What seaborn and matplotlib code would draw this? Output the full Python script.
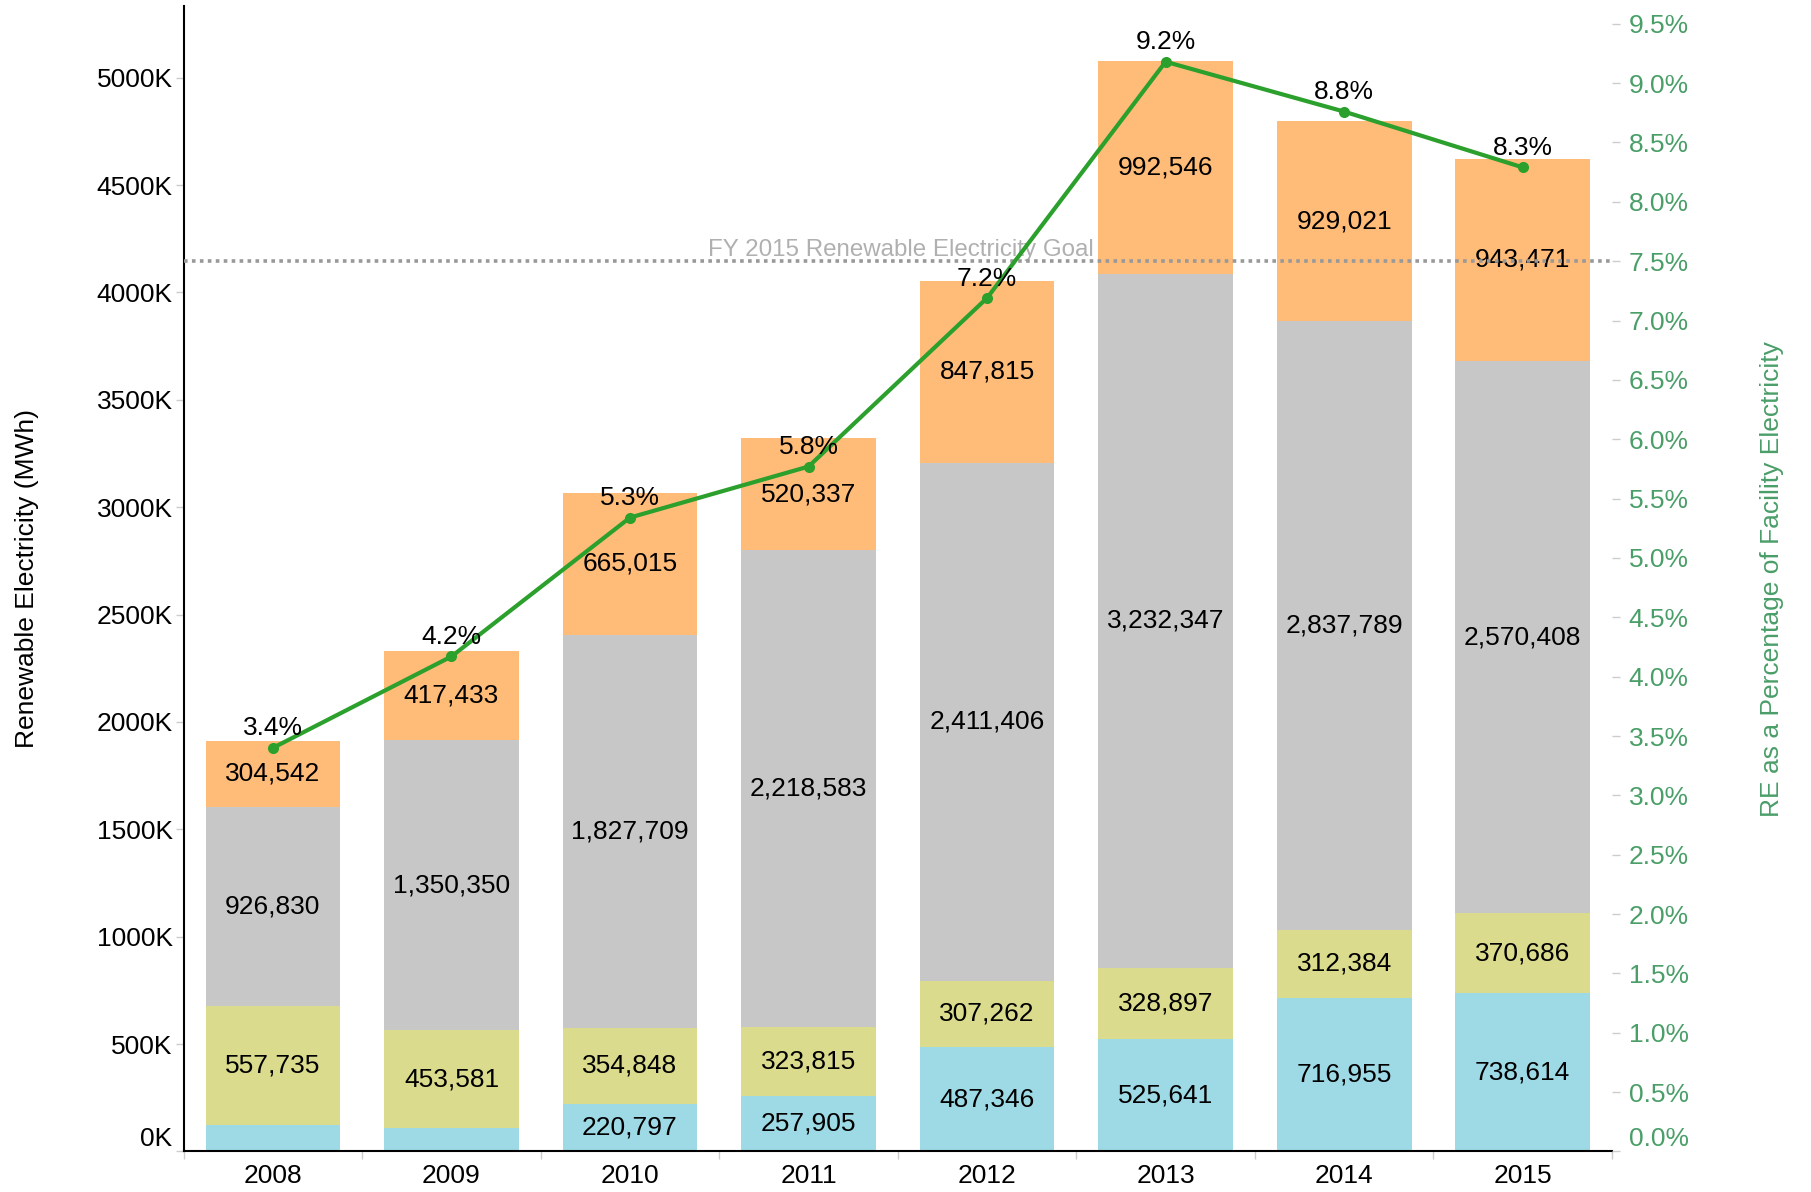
import numpy as np
import pandas as pd
import seaborn as sns
import matplotlib.pyplot as plt

# data
years = ["2008", "2009", "2010", "2011", "2012", "2013", "2014", "2015"]
blue_vals = [121000, 110000, 220797, 257905, 487346, 525641, 716955, 738614]
olive_vals = [557735, 453581, 354848, 323815, 307262, 328897, 312384, 370686]
gray_vals = [926830, 1350350, 1827709, 2218583, 2411406, 3232347, 2837789, 2570408]
orange_vals = [304542, 417433, 665015, 520337, 847815, 992546, 929021, 943471]
re_pct = [3.40, 4.17, 5.34, 5.77, 7.19, 9.18, 8.76, 8.29]
goal_pct = 7.5
goal_text = "FY 2015 Renewable Electricity Goal"

layers = [blue_vals, olive_vals, gray_vals, orange_vals]
layer_colors = ["#9edae5", "#dbdb8d", "#c7c7c7", "#ffbb78"]

sns.set_theme(style="white")
plt.rcParams["font.family"] = ["Liberation Sans", "DejaVu Sans"]

fig = plt.figure(figsize=(18.11, 11.92), dpi=100)
ax = fig.add_axes([0.1014, 0.034, 0.7887, 0.961])

df = pd.DataFrame({"year": years})
cum = np.cumsum(np.array(layers), axis=0)
# draw stacked bars from the top layer down
for i in range(3, -1, -1):
    df["h"] = cum[i]
    sns.barplot(data=df, x="year", y="h", color=layer_colors[i], saturation=1,
                width=0.755, ax=ax, errorbar=None, linewidth=0)

# segment labels (small ones skipped like in the original)
for i in range(4):
    for j in range(len(years)):
        v = layers[i][j]
        if v < 150000:
            continue
        mid = cum[i][j] - v / 2
        ax.text(j, mid, f"{v:,}", ha="center", va="center", fontsize=19, color="black", zorder=5)

ax.set_xlim(-0.5, 7.5)
ax.set_ylim(0, 5334000)
yt = np.arange(0, 5000001, 500000)
ax.set_yticks(yt, [f"{int(t/1000)}K" for t in yt])
ax.set_xlabel("")
ax.set_ylabel("Renewable Electricity (MWh)", fontsize=19, color="black")
ax.yaxis.set_label_coords(-0.101, 0.5)
ax.tick_params(axis="y", which="major", length=6, width=1, color="#cccccc", pad=2,
               labelsize=19, labelcolor="black", left=True)
ax.set_xticks(np.arange(-0.5, 8, 1), minor=True)
ax.tick_params(axis="x", which="major", length=0, pad=9, labelsize=19, labelcolor="black")
ax.tick_params(axis="x", which="minor", length=6, width=1, color="#cccccc", bottom=True)
for s in ["top", "right"]:
    ax.spines[s].set_visible(False)
for s in ["left", "bottom"]:
    ax.spines[s].set_color("black")
    ax.spines[s].set_linewidth(1.5)
ax.get_yticklabels()[0].set_va("bottom")

# percentage line on the right axis
ax2 = ax.twinx()
sns.lineplot(x=np.arange(len(years)), y=re_pct, ax=ax2, color="#2ca02c", linewidth=3,
             marker="o", markersize=8, markeredgewidth=0, zorder=6)
ax2.axhline(goal_pct, color="#999999", linestyle=(0, (1, 1.2)), linewidth=2.6, zorder=4)
ax2.text(4.6, goal_pct, goal_text, ha="right", va="bottom", fontsize=17.4, color="#b0b0b0")
for j, p in enumerate(re_pct):
    ax2.annotate(f"{p:.1f}%", (j, p), xytext=(0, 14), textcoords="offset points",
                 ha="center", va="center", fontsize=19, color="black", zorder=7)
ax2.set_ylim(0, 9.65)
pt = np.arange(0, 9.51, 0.5)
ax2.set_yticks(pt, [f"{t:.1f}%" for t in pt])
ax2.tick_params(axis="y", length=6, width=1, color="#cccccc", pad=6, labelsize=19,
                labelcolor="#4a9e68", right=True)
ax2.set_ylabel("RE as a Percentage of Facility Electricity", fontsize=19, color="#4a9e68")
ax2.yaxis.set_label_coords(1.1036, 0.5)
for s in ax2.spines.values():
    s.set_visible(False)
ax2.get_yticklabels()[0].set_va("bottom")
ax2.grid(False)
ax.grid(False)

fig.savefig("out.png", dpi=100)
